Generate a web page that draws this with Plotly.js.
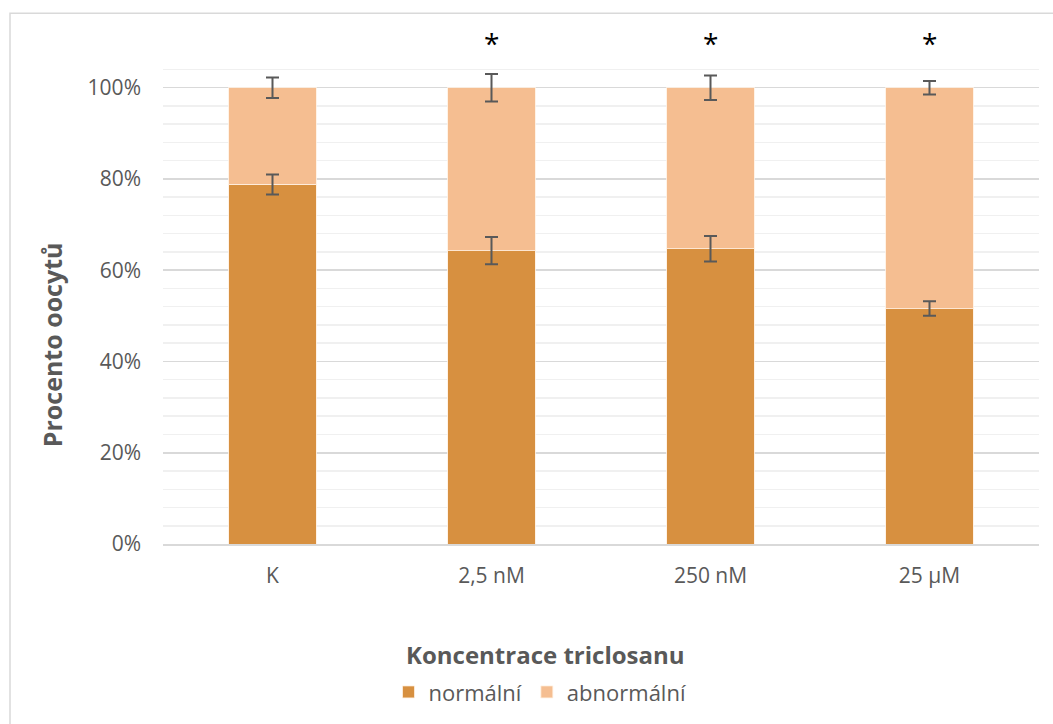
<!DOCTYPE html>
<html>
<head>
<meta charset="utf-8">
<script src="https://cdn.plot.ly/plotly-3.0.1.min.js"></script>
<style>
html,body{margin:0;padding:0;background:#fff;}
#chart{width:1053px;height:724px;}
</style>
</head>
<body>
<div id="chart"></div>
<script>
var categories = ['K', '2,5 nM', '250 nM', '25 µM'];
var normalValues = [78.8, 64.3, 64.7, 51.6];
var abnormalValues = [21.2, 35.7, 35.3, 48.4];
var normalErr = [2.2, 3.0, 2.8, 1.6];
var abnormalErr = [2.25, 3.0, 2.7, 1.5];
var significant = ['', '*', '*', '*'];
var seriesNames = ['normální', 'abnormální'];

var FONT = '"Open Sans", "Liberation Sans", sans-serif';
var GRAY = '#595959';

function errStyle(arr) {
  return {type: 'data', array: arr, visible: true, color: GRAY, thickness: 2, width: 6.5};
}

var totals = normalValues.map(function (v, i) { return v + abnormalValues[i]; });

var traces = [
  {
    type: 'bar', name: seriesNames[0], x: categories, y: normalValues,
    marker: {color: '#D79040', line: {color: 'rgba(255,240,225,0.8)', width: 1}},
    hoverinfo: 'y'
  },
  {
    type: 'bar', name: seriesNames[1], x: categories, y: abnormalValues,
    marker: {color: '#F5BE91', line: {color: 'rgba(255,240,225,0.8)', width: 1}},
    hoverinfo: 'y'
  },
  {
    type: 'scatter', mode: 'markers', x: categories, y: normalValues,
    marker: {size: 1, color: 'rgba(0,0,0,0)'}, showlegend: false, hoverinfo: 'skip',
    error_y: errStyle(normalErr)
  },
  {
    type: 'scatter', mode: 'markers', x: categories, y: totals,
    marker: {size: 1, color: 'rgba(0,0,0,0)'}, showlegend: false, hoverinfo: 'skip',
    error_y: errStyle(abnormalErr), cliponaxis: false
  }
];

var annotations = [];
categories.forEach(function (c, i) {
  if (significant[i]) {
    annotations.push({
      x: c, y: (545 - 43) / 493.6, xref: 'x', yref: 'paper', text: significant[i],
      showarrow: false, font: {family: FONT, size: 28, color: '#000'},
      xanchor: 'center', yanchor: 'middle'
    });
  }
});
annotations.push({
  xref: 'paper', yref: 'paper', x: (52 - 163) / 876, y: (545 - 346) / 493.6,
  text: '<b>Procento oocytů</b>', textangle: -90, showarrow: false,
  font: {family: FONT, size: 25, color: GRAY}, xanchor: 'center', yanchor: 'middle'
});
annotations.push({
  xref: 'paper', yref: 'paper', x: (545 - 163) / 876, y: (545 - 656) / 493.6,
  text: '<b>Koncentrace triclosanu</b>', showarrow: false,
  font: {family: FONT, size: 24, color: GRAY}, xanchor: 'center', yanchor: 'middle'
});

var layout = {
  width: 1053, height: 724,
  margin: {l: 163, r: 14, t: 51, b: 179, pad: 0},
  paper_bgcolor: '#fff', plot_bgcolor: '#fff',
  barmode: 'stack', bargap: 0.6,
  font: {family: FONT, color: GRAY, size: 21},
  showlegend: true,
  legend: {
    orientation: 'h', x: (540 - 163) / 876, xanchor: 'center',
    y: (545 - 692) / 493.6, yanchor: 'middle',
    font: {family: FONT, size: 22, color: GRAY}, traceorder: 'normal',
    itemwidth: 30
  },
  xaxis: {
    type: 'category', showgrid: false, zeroline: false,
    showline: true, linecolor: '#D9D9D9', linewidth: 1.5,
    ticks: '', tickfont: {family: FONT, size: 21, color: GRAY},
    ticklabelstandoff: 12,
    fixedrange: true
  },
  yaxis: {
    range: [0, 108.05], dtick: 20, tick0: 0, ticksuffix: '%',
    showgrid: true, gridcolor: '#D9D9D9', gridwidth: 1.5,
    zeroline: false, showline: false, ticks: '',
    tickfont: {family: FONT, size: 21, color: GRAY},
    ticklabelstandoff: 21,
    minor: {dtick: 4, tick0: 0, showgrid: true, gridcolor: '#F0F0F0', gridwidth: 1.5},
    fixedrange: true
  },
  annotations: annotations,
  shapes: [{
    type: 'rect', xref: 'paper', yref: 'paper',
    x0: (10 - 163) / 876, x1: 1.2, y0: -0.6, y1: (545 - 13.5) / 493.6,
    line: {color: '#D9D9D9', width: 1.5}, fillcolor: 'rgba(0,0,0,0)', layer: 'below'
  }]
};

Plotly.newPlot('chart', traces, layout, {displayModeBar: false, staticPlot: true});
</script>
</body>
</html>
